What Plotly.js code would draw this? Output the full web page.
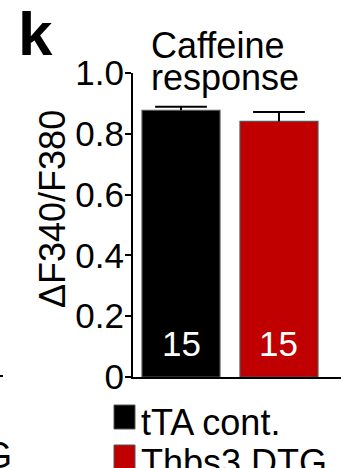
<!DOCTYPE html>
<html>
<head>
<meta charset="utf-8">
<script src="https://cdn.plot.ly/plotly-3.0.1.min.js"></script>
<style>html,body{margin:0;padding:0;background:#fff;}#chart{width:345px;height:468px;}</style>
</head>
<body>
<div id="chart"></div>
<script>
// ---- data ----
const groups = ['tTA cont.', 'Thbs3 DTG'];
const means = [0.877, 0.841];
const sems = [0.012, 0.031];
const nCounts = [15, 15];
const yTickVals = [0, 0.2, 0.4, 0.6, 0.8, 1.0];
const yTickText = ['0', '0.2', '0.4', '0.6', '0.8', '1.0'];
const titleLines = ['Caffeine', 'response'];
const yTitle = '\u0394F340/F380';
const panelLabel = 'k';

// ---- style ----
const barColors = ['#000000', '#C00000'];
const FONT = 'Liberation Sans, Arial, Helvetica, sans-serif';
const W = 345, H = 468;
const M = {l: 133, r: 4, t: 73, b: 91};
const pw = W - M.l - M.r, ph = H - M.t - M.b;
const px = x => (x - M.l) / pw;          // pixel -> paper x
const py = y => (H - M.b - y) / ph;      // pixel -> paper y

const bars = {
  type: 'bar',
  x: groups,
  y: means,
  marker: {color: barColors, line: {color: '#555555', width: 1.2}},
  hoverinfo: 'none',
  showlegend: false
};

// upper error bars: cap marker at mean+sem, stem down to the mean
const errs = {
  type: 'scatter',
  mode: 'markers',
  x: groups,
  y: means.map((m, i) => m + sems[i]),
  marker: {symbol: 'line-ew', size: 37, color: '#000', line: {color: '#000', width: 2}},
  error_y: {type: 'data', symmetric: false, array: sems.map(() => 0), arrayminus: sems,
            color: '#000', thickness: 2, width: 0},
  cliponaxis: false,
  hoverinfo: 'none',
  showlegend: false
};

const annotations = [];
// panel letter
annotations.push({xref: 'paper', yref: 'paper', x: px(16), y: py(33), xanchor: 'left', yanchor: 'middle',
  text: '<b>' + panelLabel + '</b>', showarrow: false, font: {family: FONT, size: 62, color: '#000'}});
// title (two lines, left aligned)
titleLines.forEach((t, i) => annotations.push({xref: 'paper', yref: 'paper', x: px(149), y: py(46 + i * 31),
  xanchor: 'left', yanchor: 'middle', text: t, showarrow: false, font: {family: FONT, size: 36, color: '#000'}}));
// y axis title
annotations.push({xref: 'paper', yref: 'paper', x: px(53), y: py(209), xanchor: 'center', yanchor: 'middle',
  textangle: -90, text: yTitle, showarrow: false, font: {family: FONT, size: 36, color: '#000'}});
// n labels inside bars
groups.forEach((g, i) => annotations.push({xref: 'x', yref: 'y', x: g, y: 0.11, xanchor: 'center', yanchor: 'middle',
  text: String(nCounts[i]), showarrow: false, font: {family: FONT, size: 35, color: '#fff'}}));
// legend (manual, large squares)
const shapes = [];
groups.forEach((g, i) => {
  const cy = 417 + i * 40;
  shapes.push({type: 'rect', xref: 'paper', yref: 'paper', x0: px(114), x1: px(135), y0: py(cy - 12), y1: py(cy + 12),
    fillcolor: barColors[i], line: {color: '#555', width: 1}});
  annotations.push({xref: 'paper', yref: 'paper', x: px(139), y: py(cy + 5), xanchor: 'left', yanchor: 'middle',
    text: g, showarrow: false, font: {family: FONT, size: 36, color: '#000'}});
});
// remnants of the neighbouring panel at the left edge
annotations.push({xref: 'paper', yref: 'paper', x: px(14), y: py(455), xanchor: 'right', yanchor: 'middle',
  text: 'G', showarrow: false, font: {family: FONT, size: 36, color: '#000'}});
shapes.push({type: 'line', xref: 'paper', yref: 'paper', x0: px(0), x1: px(3), y0: py(376), y1: py(376),
  line: {color: '#000', width: 2}});

const layout = {
  width: W, height: H,
  margin: M,
  paper_bgcolor: '#fff', plot_bgcolor: '#fff',
  bargap: 0.204,
  showlegend: false,
  xaxis: {type: 'category', range: [-0.49, 1.633], showline: true, linecolor: '#000', linewidth: 2,
          showticklabels: false, ticks: '', showgrid: false, zeroline: false, fixedrange: true},
  yaxis: {range: [0, 1], tickvals: yTickVals, ticktext: yTickText, ticks: 'outside', ticklen: 6, tickwidth: 2,
          tickcolor: '#000', showline: true, linecolor: '#000', linewidth: 2, showgrid: false, zeroline: false,
          ticklabelstandoff: -6,
          tickfont: {family: FONT, size: 35, color: '#000'}, fixedrange: true},
  annotations: annotations,
  shapes: shapes
};

Plotly.newPlot('chart', [bars, errs], layout, {displayModeBar: false, staticPlot: true});
</script>
</body>
</html>
